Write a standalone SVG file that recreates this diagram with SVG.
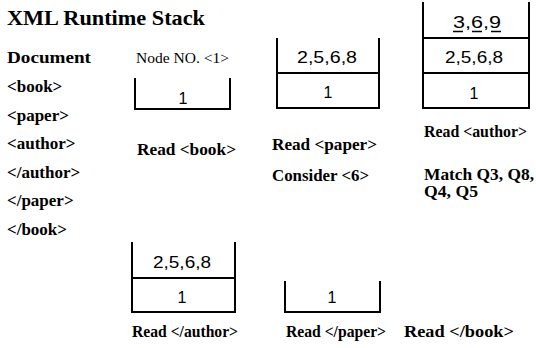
<svg xmlns="http://www.w3.org/2000/svg" width="536" height="348" viewBox="0 0 536 348">
  <style>
    .title { font-family: "Liberation Serif", "Times New Roman", serif; font-weight: bold; font-size: 22px; fill: #000; }
    .doc { font-family: "Liberation Serif", "Times New Roman", serif; font-weight: bold; font-size: 17px; fill: #000; }
    .lbl { font-family: "Liberation Serif", "Times New Roman", serif; font-weight: bold; font-size: 16px; fill: #000; }
    .note { font-family: "Liberation Serif", "Times New Roman", serif; font-size: 15px; fill: #000; }
    .num { font-family: "Liberation Sans", Arial, sans-serif; font-size: 16px; fill: #000; text-anchor: middle; }
    .wall { fill: none; stroke: #000; stroke-width: 2; stroke-linecap: square; }
    .div { stroke: #000; stroke-width: 2; }
    .ul { stroke: #000; stroke-width: 1.5; }
  </style>

  <text class="title" x="7" y="25" textLength="198" lengthAdjust="spacingAndGlyphs">XML Runtime Stack</text>

  <!-- document event list -->
  <g id="document">
    <text class="doc" x="7" y="63" textLength="84" lengthAdjust="spacingAndGlyphs">Document</text>
    <text class="doc" x="7" y="92">&lt;book&gt;</text>
    <text class="doc" x="7" y="121">&lt;paper&gt;</text>
    <text class="doc" x="7" y="149">&lt;author&gt;</text>
    <text class="doc" x="7" y="178">&lt;/author&gt;</text>
    <text class="doc" x="7" y="206">&lt;/paper&gt;</text>
    <text class="doc" x="7" y="235">&lt;/book&gt;</text>
  </g>

  <!-- stack after <book> -->
  <g id="stack-book">
    <text class="note" x="136" y="63" textLength="93" lengthAdjust="spacingAndGlyphs">Node NO. &lt;1&gt;</text>
    <path class="wall" d="M135,79 V109 H230 V79"/>
    <text class="num" x="183" y="104">1</text>
    <text class="lbl" x="137" y="155" textLength="99" lengthAdjust="spacingAndGlyphs">Read &lt;book&gt;</text>
  </g>

  <!-- stack after <paper> -->
  <g id="stack-paper">
    <path class="wall" d="M277,39 V108 H379 V39"/>
    <line class="div" x1="277" y1="73" x2="379" y2="73"/>
    <text class="num" x="327" y="63" textLength="60" lengthAdjust="spacingAndGlyphs">2,5,6,8</text>
    <text class="num" x="328" y="98">1</text>
    <text class="lbl" x="272" y="150" textLength="105" lengthAdjust="spacingAndGlyphs">Read &lt;paper&gt;</text>
    <text class="lbl" x="272" y="181" textLength="97" lengthAdjust="spacingAndGlyphs">Consider &lt;6&gt;</text>
  </g>

  <!-- stack after <author> -->
  <g id="stack-author">
    <path class="wall" d="M423,3 V108 H529 V3"/>
    <line class="div" x1="423" y1="38" x2="529" y2="38"/>
    <line class="div" x1="423" y1="73" x2="529" y2="73"/>
    <text class="num" x="477" y="28" textLength="48" lengthAdjust="spacingAndGlyphs">3,6,9</text>
    <line class="ul" x1="453" y1="31.5" x2="463" y2="31.5"/>
    <line class="ul" x1="472" y1="31.5" x2="482" y2="31.5"/>
    <line class="ul" x1="491" y1="31.5" x2="501" y2="31.5"/>
    <text class="num" x="474" y="63" textLength="58" lengthAdjust="spacingAndGlyphs">2,5,6,8</text>
    <text class="num" x="474" y="99">1</text>
    <text class="lbl" x="424" y="137" textLength="103" lengthAdjust="spacingAndGlyphs">Read &lt;author&gt;</text>
    <text class="lbl" x="424" y="180" textLength="110" lengthAdjust="spacingAndGlyphs">Match Q3, Q8,</text>
    <text class="lbl" x="424" y="197" textLength="54" lengthAdjust="spacingAndGlyphs">Q4, Q5</text>
  </g>

  <!-- stack after </author> -->
  <g id="stack-end-author">
    <path class="wall" d="M132,243 V312 H235 V243"/>
    <line class="div" x1="132" y1="278" x2="235" y2="278"/>
    <text class="num" x="182" y="268" textLength="58" lengthAdjust="spacingAndGlyphs">2,5,6,8</text>
    <text class="num" x="182" y="303">1</text>
    <text class="lbl" x="132" y="337" textLength="106" lengthAdjust="spacingAndGlyphs">Read &lt;/author&gt;</text>
  </g>

  <!-- stack after </paper> -->
  <g id="stack-end-paper">
    <path class="wall" d="M285,282 V312 H380 V282"/>
    <text class="num" x="332" y="303">1</text>
    <text class="lbl" x="286" y="337" textLength="100" lengthAdjust="spacingAndGlyphs">Read &lt;/paper&gt;</text>
  </g>

  <!-- stack after </book> -->
  <g id="stack-end-book">
    <text class="lbl" x="404" y="337" textLength="110" lengthAdjust="spacingAndGlyphs">Read &lt;/book&gt;</text>
  </g>
</svg>
